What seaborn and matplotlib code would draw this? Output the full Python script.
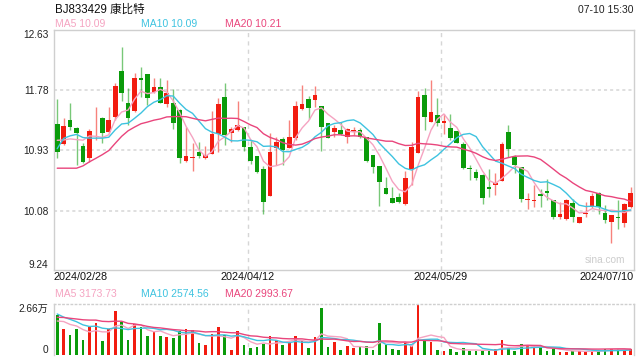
import numpy as np
import pandas as pd
import matplotlib
matplotlib.use("Agg")
import matplotlib.pyplot as plt
import matplotlib.transforms as mtransforms
import seaborn as sns

# -----------------------------
# Data (BJ833429, daily, 2024/02/28 - 2024/07/10)
# -----------------------------
opens = [11.30, 11.015, 11.36, 11.24, 10.99, 10.82, 11.24, 11.382, 11.19, 11.406,
         12.05, 11.604, 11.49, 11.947, 12.01, 11.76, 11.82, 11.585, 11.604, 11.50,
         10.784, 10.827, 10.907, 10.82, 10.88, 11.16, 11.688, 11.18, 11.217, 11.255,
         10.973, 10.85, 10.667, 10.29, 10.958, 11.086, 10.958, 11.10, 11.519, 11.655,
         11.641, 11.556, 11.31, 11.194, 11.217, 11.123, 11.185, 11.217, 11.114, 10.864,
         10.709, 10.40, 10.252, 10.276, 10.167, 10.662, 10.897, 11.712, 11.335, 11.43,
         11.32, 11.241, 11.20, 11.02, 10.685, 10.62, 10.582, 10.417, 10.44, 10.50,
         11.194, 10.84, 10.69, 10.23, 10.22, 10.31, 10.36, 10.23, 9.993, 9.96,
         10.18, 9.90, 10.03, 10.125, 10.332, 10.05, 9.923, 9.993, 9.90, 10.125]
highs = [11.66, 11.38, 11.594, 11.26, 11.03, 11.23, 11.547, 11.40, 11.547, 11.88,
         12.385, 11.81, 12.018, 12.103, 12.01, 11.947, 11.947, 11.924, 11.79, 11.51,
         11.265, 11.03, 11.05, 10.99, 11.486, 11.665, 11.877, 11.265, 11.632, 11.265,
         11.076, 10.85, 10.709, 11.18, 11.114, 11.114, 11.359, 11.632, 11.853, 11.70,
         11.84, 11.556, 11.31, 11.288, 11.335, 11.241, 11.255, 11.24, 11.12, 10.864,
         10.709, 10.56, 10.417, 10.332, 10.643, 11.053, 11.768, 11.806, 11.924, 11.665,
         11.45, 11.45, 11.21, 11.053, 10.723, 10.662, 10.596, 10.662, 10.606, 11.053,
         11.288, 10.864, 10.69, 10.33, 10.44, 10.38, 10.52, 10.23, 10.205, 10.24,
         10.24, 9.984, 10.205, 10.323, 10.346, 10.158, 10.02, 10.23, 10.18, 10.417]
lows = [10.82, 11.006, 11.217, 10.72, 10.75, 10.77, 11.08, 11.03, 11.17, 11.36,
        11.627, 11.29, 11.476, 11.688, 11.57, 11.735, 11.594, 11.547, 11.227, 10.747,
        10.76, 10.643, 10.82, 10.81, 10.88, 10.90, 11.006, 11.05, 11.20, 10.926,
        10.737, 10.615, 10.03, 10.28, 10.723, 10.723, 10.958, 11.076, 11.50, 11.368,
        11.538, 10.926, 11.10, 11.123, 11.15, 11.04, 11.15, 11.11, 10.77, 10.61,
        10.144, 10.313, 10.18, 10.19, 10.158, 10.44, 10.89, 11.217, 11.335, 11.274,
        11.16, 11.076, 11.04, 10.662, 10.51, 10.51, 10.167, 10.276, 10.30, 10.50,
        10.831, 10.61, 10.205, 10.10, 10.135, 10.125, 10.23, 9.956, 9.956, 9.946,
        9.92, 9.90, 9.993, 10.111, 10.026, 9.90, 9.626, 9.814, 9.85, 10.115]
closes = [10.90, 11.274, 11.255, 11.18, 10.76, 11.20, 11.245, 11.18, 11.36, 11.84,
          11.735, 11.382, 11.947, 11.924, 11.665, 11.82, 11.604, 11.745, 11.31, 10.827,
          10.85, 10.832, 10.85, 10.864, 11.16, 11.585, 11.147, 11.23, 11.288, 10.973,
          10.784, 10.63, 10.205, 10.902, 11.043, 10.935, 11.114, 11.556, 11.585, 11.533,
          11.712, 11.265, 11.11, 11.241, 11.16, 11.227, 11.217, 11.123, 10.784, 10.69,
          10.48, 10.313, 10.19, 10.205, 10.535, 10.982, 11.679, 11.406, 11.476, 11.32,
          11.34, 11.10, 11.04, 10.676, 10.662, 10.544, 10.262, 10.38, 10.464, 11.02,
          10.944, 10.723, 10.24, 10.24, 10.23, 10.29, 10.33, 9.993, 10.03, 10.23,
          9.993, 9.984, 10.045, 10.285, 10.135, 9.946, 10.017, 9.98, 10.172, 10.323]
volumes = [20870, 13560, 10430, 13560, 7830, 14780, 16870, 7300, 13560, 22950,
           17390, 7830, 16170, 14610, 9910, 12170, 9910, 9220, 9040, 12520,
           13560, 13040, 6430, 5220, 10960, 14610, 10430, 2610, 12520, 5220,
           3830, 4000, 5740, 9910, 7830, 5220, 6960, 9910, 7830, 3830,
           9220, 24350, 4000, 6780, 2610, 4700, 3830, 4000, 4700, 2610,
           16870, 5220, 3130, 2610, 6430, 4700, 26600, 7480, 6780, 2610,
           2260, 3130, 1740, 3650, 2260, 2260, 2260, 2260, 2960, 7830,
           3830, 1937, 5740, 5220, 4700, 4000, 2260, 2960, 1740, 1740,
           1900, 2050, 1950, 2100, 1876, 3100, 3300, 3100, 3000, 3370]

# closes / volumes of the 19 sessions before the window (only feed the moving averages)
prior_closes = [11.27, 11.26, 11.18, 10.10, 10.06, 10.25, 10.15, 10.20, 9.80, 9.75,
                9.82, 10.90, 10.98, 11.20, 11.28, 11.25, 11.18, 11.23, 10.80]
prior_volumes = [15000, 19000, 21000, 16000, 18000, 17000, 20000, 16500, 18500, 18000,
                 30000, 22000, 26000, 24300, 23000, 15000, 18000, 17500, 17300]

date_labels = ["2024/02/28", "2024/04/12", "2024/05/29", "2024/07/10"]
date_index = [0, 30, 60, 89]
price_ticks = [9.24, 10.08, 10.93, 11.78, 12.63]
vol_ticks = [0, 26600]
vol_tick_labels = ["0", "2.66万"]

title = "BJ833429 康比特"
stamp = "07-10 15:30"
ma_windows = [5, 10, 20]
ma_colors = ["#f5a3c1", "#3ec3e0", "#e9457c"]
price_ma_text = ["10.09", "10.09", "10.21"]
vol_ma_text = ["3173.73", "2574.56", "2993.67"]

# -----------------------------
# Derived series
# -----------------------------
n = len(closes)
idx = np.arange(n)
full_close = pd.Series(prior_closes + closes)
full_vol = pd.Series(prior_volumes + volumes)
price_ma = {w: full_close.rolling(w).mean().iloc[-n:].to_numpy() for w in ma_windows}
vol_ma = {w: full_vol.rolling(w).mean().iloc[-n:].to_numpy() for w in ma_windows}

RED = "#f21c10"
GREEN = "#0a9b0a"
colors = [RED if c >= o else GREEN for o, c in zip(opens, closes)]

sns.set_style("white")
plt.rcParams['font.family'] = ['Liberation Sans', 'Noto Sans CJK SC']

fig = plt.figure(figsize=(6.4, 3.6), dpi=100)
ax = fig.add_axes([54 / 640, 1 - 270 / 360, 580 / 640, 240 / 360])
axv = fig.add_axes([54 / 640, 1 - 355 / 360, 580 / 640, 51 / 360])

grid_x = [date_index[1] - 0.4, date_index[2] - 0.45]

# === Price pane
for i in idx:
    ax.vlines(i, lows[i], highs[i], color=colors[i], alpha=0.55, lw=1.0, zorder=2)
    body = max(abs(closes[i] - opens[i]), 0.012)
    ax.bar(i, body, bottom=min(opens[i], closes[i]), width=0.72,
           color=colors[i], linewidth=0, zorder=3)

for w, col in zip(ma_windows, ma_colors):
    sns.lineplot(x=idx, y=price_ma[w], ax=ax, color=col, lw=1.0, zorder=4)

for v in price_ticks[1:-1]:
    ax.axhline(v, color="#d6d6d6", lw=1.1, ls=(0, (2, 2)), zorder=0)
for gx in grid_x:
    ax.axvline(gx, color="#d6d6d6", lw=1.0, ls=(0, (3, 3)), zorder=0)

ax.set_xlim(-0.5, n - 0.5)
ax.set_ylim(price_ticks[0], price_ticks[-1])
ax.set_xticks([])
ax.set_yticks(price_ticks)
ax.set_yticklabels([f"{t:.2f}" for t in price_ticks])
ax.tick_params(axis='y', length=0, pad=4, labelsize=7.3, labelcolor="#222222")
ylabs = ax.get_yticklabels()
ylabs[0].set_va('bottom')
ylabs[-1].set_va('top')
for sp in ax.spines.values():
    sp.set_color("#cfcfcf")
    sp.set_linewidth(1.0)
ax.set_xlabel('')
ax.set_ylabel('')

ax.text(0.985, 0.04, "sina.com", transform=ax.transAxes, ha='right', va='center',
        fontsize=7.3, color="#cccccc")

# === Volume pane
axv.bar(idx, volumes, width=0.42, color=colors, linewidth=0, zorder=2)
for w, col in zip(ma_windows, ma_colors):
    sns.lineplot(x=idx, y=vol_ma[w], ax=axv, color=col, lw=1.0, zorder=3)
for gx in grid_x:
    axv.axvline(gx, color="#d6d6d6", lw=1.0, ls=(0, (3, 3)), zorder=0)
axv.set_xlim(-0.5, n - 0.5)
axv.set_ylim(vol_ticks[0], vol_ticks[-1])
axv.set_xticks([])
axv.set_yticks(vol_ticks)
axv.set_yticklabels(vol_tick_labels)
axv.tick_params(axis='y', length=0, pad=4, labelsize=7.3, labelcolor="#222222")
vlabs = axv.get_yticklabels()
vlabs[0].set_va('bottom')
vlabs[-1].set_va('top')
for sp in axv.spines.values():
    sp.set_color("#cfcfcf")
    sp.set_linewidth(1.0)
axv.spines['top'].set_linestyle((0, (1, 2)))
axv.spines['bottom'].set_visible(False)
axv.set_xlabel('')
axv.set_ylabel('')

# === Header and legends (pixel positions)
def px(x, y):
    return x / 640, 1 - y / 360

fig.text(*px(55, 10), title, ha='left', va='center', fontsize=8.3, color="#111111")
fig.text(*px(634, 10), stamp, ha='right', va='center', fontsize=7.5, color="#222222")

legend_x = [55, 141, 225]
for x0, w, col, pt, vt in zip(legend_x, ma_windows, ma_colors, price_ma_text, vol_ma_text):
    fig.text(*px(x0, 24), f"MA{w} {pt}", ha='left', va='center', fontsize=7.5, color=col)
    fig.text(*px(x0, 294), f"MA{w} {vt}", ha='left', va='center', fontsize=7.5, color=col)

# date labels under the price pane
trans = mtransforms.blended_transform_factory(ax.transData, fig.transFigure)
date_x = [-0.5, grid_x[0], grid_x[1], n - 0.5]
date_ha = ['left', 'center', 'center', 'right']
for x0, lab, ha in zip(date_x, date_labels, date_ha):
    ax.text(x0, 1 - 277.5 / 360, lab, transform=trans, ha=ha, va='center',
            fontsize=7.8, color="#111111")

fig.savefig("out.png", dpi=100)
